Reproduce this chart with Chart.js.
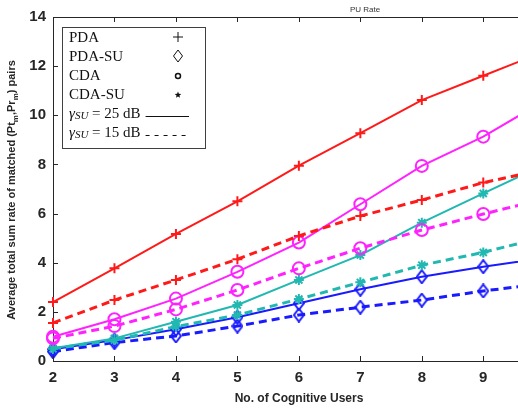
<!DOCTYPE html>
<html>
<head>
<meta charset="utf-8">
<script src="https://cdn.jsdelivr.net/npm/chart.js@4/dist/chart.umd.min.js"></script>
<style>
html,body{margin:0;padding:0;background:#fff;overflow:hidden;}
#wrap{width:518px;height:408px;position:relative;}
</style>
</head>
<body>
<div id="wrap"><canvas id="c" width="518" height="408"></canvas></div>
<script>
// x positions (No. of Cognitive Users)
const users = [2, 3, 4, 5, 6, 7, 8, 9, 10];
const yTicks = [0, 2, 4, 6, 8, 10, 12, 14];
const xTicks = [2, 3, 4, 5, 6, 7, 8, 9];

// gamma_SU = 25 dB (solid)
const pda25   = [2.40, 3.77, 5.17, 6.50, 7.95, 9.27, 10.62, 11.61, 12.60];
const pdaSU25 = [0.48, 0.85, 1.29, 1.78, 2.35, 2.92, 3.43, 3.84, 4.20];
const cda25   = [0.99, 1.70, 2.54, 3.63, 4.82, 6.38, 7.94, 9.13, 10.60];
const cdaSU25 = [0.52, 0.92, 1.60, 2.28, 3.30, 4.31, 5.63, 6.82, 8.00];
// gamma_SU = 15 dB (dashed)
const pda15   = [1.55, 2.48, 3.30, 4.14, 5.09, 5.90, 6.55, 7.26, 7.80];
const pdaSU15 = [0.38, 0.75, 1.02, 1.42, 1.87, 2.19, 2.48, 2.85, 3.15];
const cda15   = [0.92, 1.42, 2.10, 2.89, 3.77, 4.59, 5.33, 5.98, 6.60];
const cdaSU15 = [0.50, 0.85, 1.40, 1.87, 2.52, 3.20, 3.90, 4.42, 5.05];

const legendLabels = ['PDA', 'PDA-SU', 'CDA', 'CDA-SU'];

const RED = '#ff1a1a', MAG = '#ff22ff', CYAN = '#22b8b2', BLUE = '#1a1aff';
const AX = '#262626';

// tall diamond marker image (MATLAB-like)
function diamondImg(color){
  const c = document.createElement('canvas');
  c.width = 12; c.height = 15;
  const g = c.getContext('2d');
  g.strokeStyle = color; g.lineWidth = 2;
  g.beginPath();
  g.moveTo(6, 1); g.lineTo(11, 7.5); g.lineTo(6, 14); g.lineTo(1, 7.5); g.closePath();
  g.stroke();
  return c;
}
const blueDiamond = diamondImg(BLUE);

function pts(arr){ return users.map((u,i)=>({x:u, y:arr[i]})); }
function ds(label, arr, color, style, dashed){
  return {
    label: label,
    data: pts(arr),
    borderColor: color,
    backgroundColor: 'rgba(0,0,0,0)',
    pointBorderColor: color,
    pointBackgroundColor: 'rgba(0,0,0,0)',
    pointStyle: style,
    pointRadius: style==='circle' ? 6 : 5,
    pointBorderWidth: 2,
    borderWidth: dashed ? 3 : 2,
    borderDash: dashed ? [8,5] : [],
    tension: 0,
    fill: false,
    clip: false
  };
}

const framePlugin = {
  id: 'frame',
  afterDraw(chart){
    const ctx = chart.ctx, a = chart.chartArea;
    const xs = chart.scales.x, ys = chart.scales.y;
    ctx.save();
    ctx.strokeStyle = AX; ctx.lineWidth = 1;
    ctx.beginPath();
    ctx.moveTo(a.left, a.top + 0.5); ctx.lineTo(a.right, a.top + 0.5);
    xTicks.forEach(v=>{
      const px = Math.round(xs.getPixelForValue(v)) + 0.5;
      ctx.moveTo(px, a.bottom); ctx.lineTo(px, a.bottom - 5);
      ctx.moveTo(px, a.top); ctx.lineTo(px, a.top + 5);
    });
    yTicks.forEach(v=>{
      const py = Math.round(ys.getPixelForValue(v)) + 0.5;
      ctx.moveTo(a.left, py); ctx.lineTo(a.left + 5, py);
    });
    ctx.stroke();

    // title
    ctx.fillStyle = '#333';
    ctx.font = '8px "Liberation Sans", Arial, sans-serif';
    ctx.textAlign = 'center'; ctx.textBaseline = 'middle';
    ctx.fillText('PU Rate', 365, 10);

    // x title
    ctx.fillStyle = AX;
    ctx.font = 'bold 12px "Liberation Sans", Arial, sans-serif';
    ctx.fillText('No. of Cognitive Users', 299, 399);

    // y title with subscripts
    const parts = [
      ['Average total sum rate of matched (Pt', false],
      ['m', true], [',Pr', false], ['m', true], [') pairs', false]
    ];
    const fMain = 'bold 11px "Liberation Sans", Arial, sans-serif';
    const fSub = 'bold 8px "Liberation Sans", Arial, sans-serif';
    let total = 0;
    parts.forEach(p=>{ ctx.font = p[1]?fSub:fMain; total += ctx.measureText(p[0]).width; });
    ctx.save();
    ctx.translate(12, 190);
    ctx.rotate(-Math.PI/2);
    ctx.textAlign = 'left'; ctx.textBaseline = 'middle';
    let x = -total/2;
    parts.forEach(p=>{
      ctx.font = p[1]?fSub:fMain;
      ctx.fillText(p[0], x, p[1] ? 4 : 0);
      x += ctx.measureText(p[0]).width;
    });
    ctx.restore();

    // legend box
    const L = 62, T = 27, R = 205, B = 148;
    ctx.fillStyle = '#fff';
    ctx.fillRect(L, T, R-L, B-T);
    ctx.strokeStyle = '#404040'; ctx.lineWidth = 1;
    ctx.strokeRect(L + 0.5, T + 0.5, R-L, B-T);
    ctx.fillStyle = '#111';
    ctx.textAlign = 'left'; ctx.textBaseline = 'alphabetic';
    const rows = [42, 61, 80, 99, 118, 137];
    ctx.font = '15px "Liberation Serif", "Times New Roman", serif';
    legendLabels.forEach((t,i)=> ctx.fillText(t, 69, rows[i]));
    // markers
    const mx = 178;
    ctx.strokeStyle = '#111'; ctx.lineWidth = 1;
    ctx.beginPath();
    let my = rows[0]-5;
    ctx.moveTo(mx-5, my); ctx.lineTo(mx+5, my);
    ctx.moveTo(mx, my-5); ctx.lineTo(mx, my+5);
    ctx.stroke();
    my = rows[1]-5;
    ctx.beginPath();
    ctx.moveTo(mx, my-6); ctx.lineTo(mx+4.5, my); ctx.lineTo(mx, my+6); ctx.lineTo(mx-4.5, my); ctx.closePath();
    ctx.stroke();
    my = rows[2]-4;
    ctx.beginPath(); ctx.arc(mx, my, 2.5, 0, Math.PI*2); ctx.lineWidth = 1.5; ctx.stroke();
    my = rows[3]-4;
    ctx.beginPath();
    for (let k=0;k<10;k++){
      const r = k%2===0 ? 3.5 : 1.5;
      const ang = -Math.PI/2 + k*Math.PI/5;
      const px = mx + r*Math.cos(ang), py = my + r*Math.sin(ang);
      if (k===0) ctx.moveTo(px,py); else ctx.lineTo(px,py);
    }
    ctx.closePath(); ctx.fill();
    // gamma rows
    [['25', rows[4], false], ['15', rows[5], true]].forEach(g=>{
      let gx = 69;
      ctx.font = 'italic 15px "Liberation Serif", "Times New Roman", serif';
      ctx.fillText('\u03B3', gx, g[1]); gx += ctx.measureText('\u03B3').width;
      ctx.font = 'italic 11px "Liberation Serif", "Times New Roman", serif';
      ctx.fillText('SU', gx, g[1]+1); gx += ctx.measureText('SU').width;
      ctx.font = '15px "Liberation Serif", "Times New Roman", serif';
      const s = ' = ' + g[0] + ' dB';
      ctx.fillText(s, gx, g[1]); gx += ctx.measureText(s).width;
      ctx.lineWidth = 1;
      ctx.beginPath();
      if (g[2]) { ctx.setLineDash([4,5]); }
      ctx.moveTo(gx + 5, g[1] - 1.5); ctx.lineTo(189, g[1] - 1.5);
      ctx.stroke();
      ctx.setLineDash([]);
    });
    ctx.restore();
  }
};

new Chart(document.getElementById('c'), {
  type: 'line',
  data: {
    datasets: [
      ds('PDA 15 dB', pda15, RED, 'cross', true),
      ds('CDA 15 dB', cda15, MAG, 'circle', true),
      ds('CDA-SU 15 dB', cdaSU15, CYAN, 'star', true),
      ds('PDA-SU 15 dB', pdaSU15, BLUE, blueDiamond, true),
      ds('PDA 25 dB', pda25, RED, 'cross', false),
      ds('CDA 25 dB', cda25, MAG, 'circle', false),
      ds('CDA-SU 25 dB', cdaSU25, CYAN, 'star', false),
      ds('PDA-SU 25 dB', pdaSU25, BLUE, blueDiamond, false)
    ]
  },
  options: {
    responsive: false,
    animation: false,
    devicePixelRatio: 1,
    layout: { autoPadding: false, padding: { top: 17, right: 0, left: 0, bottom: 0 } },
    plugins: { legend: { display: false }, title: { display: false }, tooltip: { enabled: false } },
    scales: {
      x: {
        type: 'linear', min: 2, max: 9.565,
        afterBuildTicks(s){ s.ticks = xTicks.map(v=>({value:v})); },
        afterFit(s){ s.height = 47; s.paddingLeft = 0; s.paddingRight = 0; },
        grid: { display: false, drawTicks: false },
        border: { display: true, color: AX, width: 1 },
        ticks: { color: AX, padding: 8, font: { family: '"Liberation Sans", Arial, sans-serif', size: 15, weight: 'bold' } }
      },
      y: {
        type: 'linear', min: 0, max: 14,
        afterBuildTicks(s){ s.ticks = yTicks.map(v=>({value:v})); },
        afterFit(s){ s.width = 53; s.paddingTop = 0; s.paddingBottom = 0; },
        grid: { display: false, drawTicks: false },
        border: { display: true, color: AX, width: 1 },
        ticks: { color: AX, padding: 7, font: { family: '"Liberation Sans", Arial, sans-serif', size: 15, weight: 'bold' } }
      }
    }
  },
  plugins: [framePlugin]
});
</script>
</body>
</html>
